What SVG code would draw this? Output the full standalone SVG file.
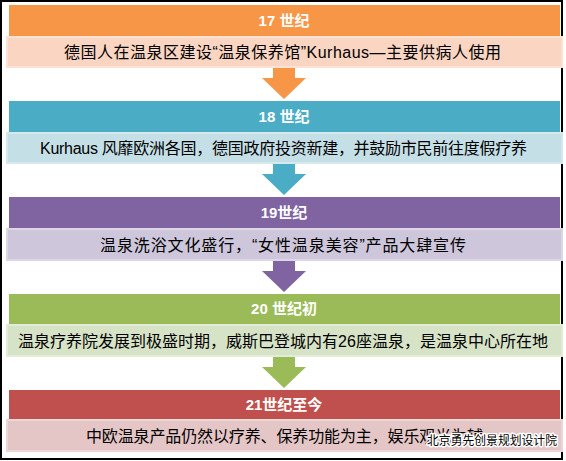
<svg xmlns="http://www.w3.org/2000/svg" width="566" height="461" viewBox="0 0 566 461">
<style>
.hd{font-family:"Liberation Sans","Noto Sans CJK SC",sans-serif;font-size:15px;font-weight:bold;fill:#fff;text-anchor:middle}
.tx{font-family:"Liberation Sans","Noto Sans CJK SC",sans-serif;font-size:16px;fill:#000;text-anchor:start}
.wm{font-family:"Noto Sans CJK SC",sans-serif;font-size:12px;fill:#000;stroke:#fff;stroke-width:3px;paint-order:stroke;stroke-linejoin:round;text-anchor:start}
</style>
<rect x="0" y="0" width="566" height="461" fill="#fff"/>
<rect x="1" y="1" width="561" height="458" fill="none" stroke="#000" stroke-width="2"/>
<g id="connectors">
<polygon points="273,60 295,60 295,78 306,78 284,99 262,78 273,78" fill="#F79646"/>
<polygon points="273,156 295,156 295,174 306,174 284,195 262,174 273,174" fill="#4BACC6"/>
<polygon points="273,254 295,254 295,271 306,271 284,292 262,271 273,271" fill="#8064A2"/>
<polygon points="273,350 295,350 295,367 306,367 284,388 262,367 273,367" fill="#9BBB59"/>
</g>
<g id="n17">
<rect x="9" y="5" width="551" height="31" fill="#F79646"/>
<text class="hd" x="284" y="26">17 世纪</text>
</g>
<g id="d17">
<rect x="7" y="37" width="555" height="30" fill="#FAD5C2" stroke="#FCE2D4" stroke-width="2"/>
<text class="tx" x="64" y="58" textLength="437" lengthAdjust="spacing">德国人在温泉区建设“温泉保养馆”Kurhaus—主要供病人使用</text>
</g>
<g id="n18">
<rect x="9" y="101" width="551" height="31" fill="#4BACC6"/>
<text class="hd" x="284" y="122">18 世纪</text>
</g>
<g id="d18">
<rect x="7" y="133" width="555" height="30" fill="#C5DFE7" stroke="#D5E8EE" stroke-width="2"/>
<text class="tx" x="40" y="154" textLength="487" lengthAdjust="spacing">Kurhaus 风靡欧洲各国，德国政府投资新建，并鼓励市民前往度假疗养</text>
</g>
<g id="n19">
<rect x="9" y="197" width="551" height="31" fill="#8064A2"/>
<text class="hd" x="284" y="218">19世纪</text>
</g>
<g id="d19">
<rect x="7" y="229" width="555" height="31" fill="#CEC7DB" stroke="#DCD6E5" stroke-width="2"/>
<text class="tx" x="100" y="251" textLength="366" lengthAdjust="spacing">温泉洗浴文化盛行，“女性温泉美容”产品大肆宣传</text>
</g>
<g id="n20">
<rect x="9" y="294" width="551" height="30" fill="#9BBB59"/>
<text class="hd" x="284" y="314">20 世纪初</text>
</g>
<g id="d20">
<rect x="7" y="325" width="555" height="31" fill="#D7E3C6" stroke="#E3ECD7" stroke-width="2"/>
<text class="tx" x="18" y="347" textLength="530" lengthAdjust="spacing">温泉疗养院发展到极盛时期，威斯巴登城内有26座温泉，是温泉中心所在地</text>
</g>
<g id="n21">
<rect x="9" y="390" width="551" height="29" fill="#C0504D"/>
<text class="hd" x="284" y="410">21世纪至今</text>
</g>
<g id="d21">
<rect x="7" y="420" width="555" height="31" fill="#E5C6C6" stroke="#EDD6D6" stroke-width="2"/>
<text class="tx" x="86" y="442" textLength="397" lengthAdjust="spacing">中欧温泉产品仍然以疗养、保养功能为主，娱乐观光为辅</text>
</g>
<text class="wm" x="427" y="445" textLength="130" lengthAdjust="spacingAndGlyphs">北京勇先创景规划设计院</text>
</svg>
